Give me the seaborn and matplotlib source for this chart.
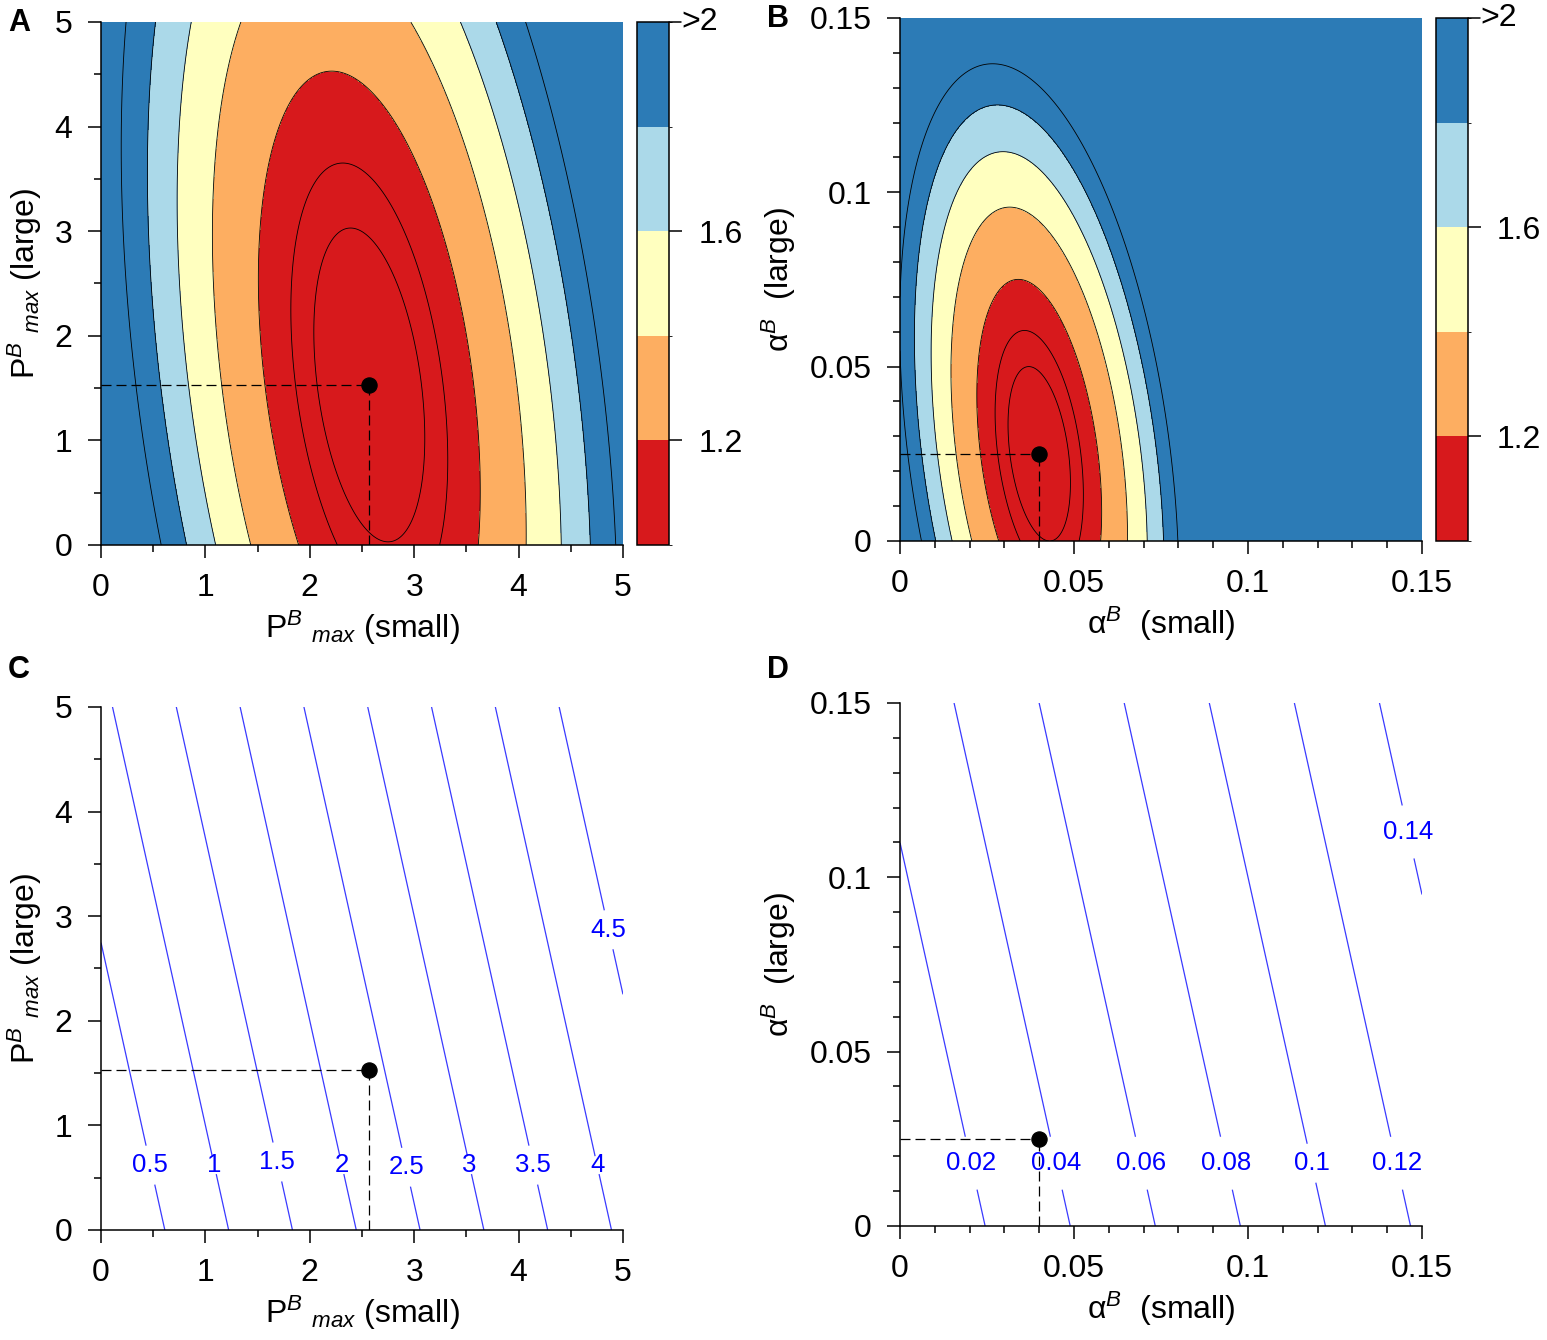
import numpy as np
import matplotlib
matplotlib.use('Agg')
import matplotlib.pyplot as plt
import seaborn as sns
from matplotlib.colors import ListedColormap, BoundaryNorm
from matplotlib.cm import ScalarMappable
from matplotlib.ticker import MultipleLocator, FuncFormatter

# optimum (black dot) in the two parameter planes
opt_pmax = [2.57, 1.53]
opt_alpha = [0.040, 0.025]

# relative error surface around the optimum, read off the ellipses:
# rel = 1 + err_scale * (a*dx^2 + b*dx*dy + c*dy^2)
quad_pmax = [1.0, 0.24, 0.1255]
quad_alpha = [3500.0, 840.0, 450.0]
err_scale = 0.2

fill_levels = [1.0, 1.2, 1.4, 1.6, 1.8, 2.0]
line_levels = [1.05, 1.1, 1.2, 1.4, 1.6, 1.8, 2.0]
band_colors = ['#d7191c', '#fdae61', '#ffffbf', '#abd9e9', '#2c7bb6']
cbar_ticks = [1.2, 1.6]
cbar_labels = ['1.2', '1.6']
cbar_top_label = '>2'

# panels C/D: weighted mean of small and large parameter
w_small = 0.818
levels_pmax = [0.5, 1, 1.5, 2, 2.5, 3, 3.5, 4, 4.5]
label_y_pmax = [0.62, 0.62, 0.65, 0.62, 0.60, 0.62, 0.62, 0.62, 2.87]
levels_alpha = [0.02, 0.04, 0.06, 0.08, 0.1, 0.12, 0.14]
label_y_alpha = [0.018, 0.018, 0.018, 0.018, 0.018, 0.018, 0.113]

range_pmax = [0, 5]
range_alpha = [0, 0.15]

sns.set_style('ticks')
plt.rcParams['font.family'] = ['Liberation Sans', 'DejaVu Sans']
plt.rcParams['mathtext.fontset'] = 'custom'
plt.rcParams['mathtext.rm'] = 'Liberation Sans'
plt.rcParams['mathtext.it'] = 'Liberation Sans:italic'
plt.rcParams['axes.linewidth'] = 1.1
for key in ['text.color', 'axes.labelcolor', 'xtick.color', 'ytick.color',
            'axes.edgecolor']:
    plt.rcParams[key] = 'black'

lab_pmax_x = 'P$^{B}$ $_{max}$ (small)'
lab_pmax_y = 'P$^{B}$ $_{max}$ (large)'
lab_alpha_x = '\u03b1$^{B}$  (small)'
lab_alpha_y = '\u03b1$^{B}$  (large)'

FS = 23
fmt = FuncFormatter(lambda v, p: f'{v:g}')


def grid(rng):
    g = np.linspace(rng[0], rng[1], 500)
    return np.meshgrid(g, g)


def rel_error(X, Y, opt, q):
    dx = X - opt[0]
    dy = Y - opt[1]
    return 1 + err_scale * (q[0] * dx**2 + q[1] * dx * dy + q[2] * dy**2)


def style_axes(ax, rng, major, minor, xlabel, ylabel):
    ax.set_xlim(rng)
    ax.set_ylim(rng)
    for s in ['top', 'right']:
        ax.spines[s].set_visible(False)
    ax.xaxis.set_major_locator(MultipleLocator(major))
    ax.yaxis.set_major_locator(MultipleLocator(major))
    ax.xaxis.set_minor_locator(MultipleLocator(minor))
    ax.yaxis.set_minor_locator(MultipleLocator(minor))
    ax.xaxis.set_major_formatter(fmt)
    ax.yaxis.set_major_formatter(fmt)
    ax.tick_params(which='major', length=9.5, width=1.1, direction='out',
                   labelsize=FS, pad=11, top=False, right=False, colors='black')
    ax.tick_params(which='minor', length=5, width=1.1, direction='out',
                   top=False, right=False, colors='black')
    ax.set_xlabel(xlabel, fontsize=FS, labelpad=4)
    ax.set_ylabel(ylabel, fontsize=FS, labelpad=8)


def mark_optimum(ax, opt):
    ax.plot([0, opt[0]], [opt[1], opt[1]], color='black', lw=0.9,
            dashes=(8, 4), zorder=4)
    ax.plot([opt[0], opt[0]], [0, opt[1]], color='black', lw=0.9,
            dashes=(8, 4), zorder=4)
    sns.scatterplot(x=[opt[0]], y=[opt[1]], color='black', s=120,
                    edgecolor='black', ax=ax, zorder=5, legend=False)


def error_panel(ax, cax, rng, opt, q, major, minor, xl, yl):
    X, Y = grid(rng)
    Z = rel_error(X, Y, opt, q)
    cmap = ListedColormap(band_colors)
    cmap.set_over(band_colors[-1])
    cmap.set_under(band_colors[0])
    ax.contourf(X, Y, Z, levels=fill_levels, cmap=cmap, extend='both')
    ax.contour(X, Y, Z, levels=line_levels, colors='black', linewidths=0.6)
    mark_optimum(ax, opt)
    style_axes(ax, rng, major, minor, xl, yl)

    norm = BoundaryNorm(fill_levels, len(band_colors))
    cb = plt.colorbar(ScalarMappable(norm=norm, cmap=ListedColormap(band_colors)),
                      cax=cax, ticks=cbar_ticks)
    cb.ax.set_yticklabels(cbar_labels)
    cb.ax.tick_params(length=9, width=1.1, direction='out', labelsize=FS,
                      pad=12, colors='black')
    cb.outline.set_linewidth(1.1)
    cb.outline.set_edgecolor('black')
    cb.ax.plot([1.0, 1.38], [1.0, 1.0], transform=cb.ax.transAxes,
               color='black', lw=1.1, clip_on=False)
    cb.ax.text(1.38, 1.0, cbar_top_label, transform=cb.ax.transAxes,
               fontsize=FS, va='center', ha='left')


def weight_panel(ax, rng, opt, levels, label_y, major, minor, xl, yl):
    X, Y = grid(rng)
    Z = w_small * X + (1 - w_small) * Y
    cs = ax.contour(X, Y, Z, levels=levels, colors='#3a3aff', linewidths=0.9)
    pos = [((lv - (1 - w_small) * ly) / w_small, ly)
           for lv, ly in zip(levels, label_y)]
    texts = ax.clabel(cs, levels, manual=pos, inline=True, inline_spacing=2,
                      fontsize=18.5, colors='#0000ff',
                      fmt=lambda v: f'{v:g}')
    for t in texts:
        t.set_rotation(0)
        t.set_clip_on(False)
    mark_optimum(ax, opt)
    style_axes(ax, rng, major, minor, xl, yl)


fig = plt.figure(figsize=(15.47, 13.40), dpi=100)
axA = fig.add_axes([0.0653, 0.5933, 0.3374, 0.3903])
caxA = fig.add_axes([0.4118, 0.5933, 0.0207, 0.3903])
axB = fig.add_axes([0.5818, 0.5963, 0.3374, 0.3903])
caxB = fig.add_axes([0.9282, 0.5963, 0.0207, 0.3903])
axC = fig.add_axes([0.0653, 0.0821, 0.3374, 0.3903])
axD = fig.add_axes([0.5818, 0.0851, 0.3374, 0.3903])

error_panel(axA, caxA, range_pmax, opt_pmax, quad_pmax, 1, 0.5,
            lab_pmax_x, lab_pmax_y)
error_panel(axB, caxB, range_alpha, opt_alpha, quad_alpha, 0.05, 0.01,
            lab_alpha_x, lab_alpha_y)
weight_panel(axC, range_pmax, opt_pmax, levels_pmax, label_y_pmax, 1, 0.5,
             lab_pmax_x, lab_pmax_y)
weight_panel(axD, range_alpha, opt_alpha, levels_alpha, label_y_alpha, 0.05, 0.01,
             lab_alpha_x, lab_alpha_y)

for letter, x, y in [('A', 0.005, 0.983), ('B', 0.496, 0.986),
                     ('C', 0.005, 0.5), ('D', 0.496, 0.5)]:
    fig.text(x, y, letter, fontsize=22, fontweight='bold', va='center', ha='left')

fig.savefig('out.png', dpi=100)
